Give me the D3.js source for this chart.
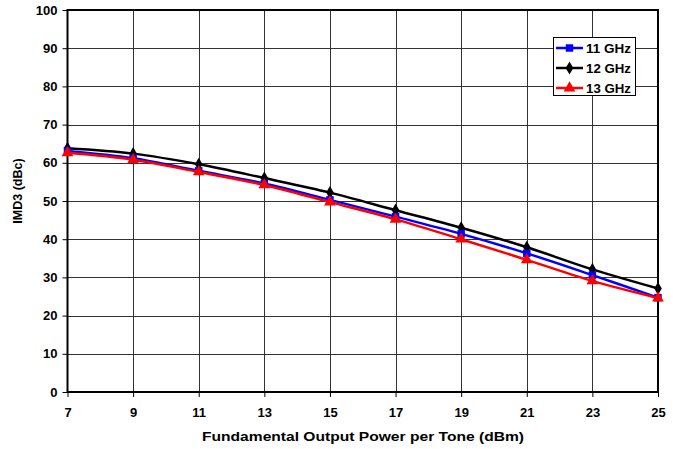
<!DOCTYPE html>
<html><head><meta charset="utf-8">
<script src="https://cdn.jsdelivr.net/npm/d3@7"></script>
<style>body{margin:0;background:#fff}svg{display:block}text{font-family:"Liberation Sans",Arial,sans-serif;font-weight:bold}</style>
</head><body>
<script>
const powers = [7, 9, 11, 13, 15, 17, 19, 21, 23, 25];
const imd11 = [63.1, 61.2, 57.9, 54.6, 50.3, 45.9, 41.4, 36.3, 30.6, 24.7];
const imd12 = [63.8, 62.4, 59.6, 56.0, 52.2, 47.6, 43.0, 37.9, 32.1, 27.1];
const imd13 = [62.6, 60.8, 57.6, 54.2, 49.7, 45.2, 40.0, 34.6, 29.1, 24.6];
const seriesNames = ["11 GHz", "12 GHz", "13 GHz"];
const xTicks = [7, 9, 11, 13, 15, 17, 19, 21, 23, 25];
const yTicks = [0, 10, 20, 30, 40, 50, 60, 70, 80, 90, 100];

const W = 673, H = 449;
const m = {l: 67.5, r: 673 - 658, t: 10, b: 449 - 392};
const svg = d3.select("body").append("svg").attr("width", W).attr("height", H);
const x = d3.scaleLinear().domain([7, 25]).range([m.l, W - m.r]);
const y = d3.scaleLinear().domain([0, 100]).range([H - m.b, m.t]);

// grid
const g = svg.append("g");
g.selectAll(".gx").data(xTicks.slice(1, -1)).join("line")
  .attr("x1", d => Math.round(x(d)) + 0.5).attr("x2", d => Math.round(x(d)) + 0.5)
  .attr("y1", y(100)).attr("y2", y(0)).attr("stroke", "#333").attr("stroke-width", 1);
g.selectAll(".gy").data(yTicks.slice(1, -1)).join("line")
  .attr("y1", d => Math.round(y(d)) + 0.5).attr("y2", d => Math.round(y(d)) + 0.5)
  .attr("x1", x(7)).attr("x2", x(25)).attr("stroke", "#333").attr("stroke-width", 1);

// border
svg.append("rect").attr("x", x(7)).attr("y", y(100)).attr("width", x(25) - x(7)).attr("height", y(0) - y(100))
  .attr("fill", "none").attr("stroke", "#000").attr("stroke-width", 2);

// axes
const xa = svg.append("g").attr("transform", `translate(0,${y(0)})`)
  .call(d3.axisBottom(x).tickValues(xTicks).tickFormat(d3.format("d")).tickSize(5).tickPadding(11));
const ya = svg.append("g").attr("transform", `translate(${x(7)},0)`)
  .call(d3.axisLeft(y).tickValues(yTicks).tickSize(5).tickPadding(5));
[xa, ya].forEach(a => {
  a.select(".domain").remove();
  a.selectAll("line").attr("stroke", "#000").attr("stroke-width", 1);
  a.selectAll("text").attr("font-size", 13).attr("fill", "#000").style("font-family", '"Liberation Sans",Arial,sans-serif').style("font-weight", "bold");
});

svg.append("text").attr("x", 363).attr("y", 441).attr("text-anchor", "middle")
  .attr("font-size", 13.5).attr("textLength", 322).attr("lengthAdjust", "spacingAndGlyphs")
  .text("Fundamental Output Power per Tone (dBm)");
svg.append("text").attr("transform", `translate(22,191) rotate(-90)`).attr("text-anchor", "middle")
  .attr("font-size", 12.5).text("IMD3 (dBc)");

const series = [
  {name: seriesNames[0], vals: imd11, color: "#0000ff", sym: d3.symbolSquare, size: 56},
  {name: seriesNames[1], vals: imd12, color: "#000000", sym: d3.symbolDiamond, size: 50},
  {name: seriesNames[2], vals: imd13, color: "#ff0000", sym: d3.symbolTriangle, size: 60}
];
const line = d3.line().x((d, i) => x(powers[i])).y(d => y(d)).curve(d3.curveCatmullRom.alpha(0.5));
const order = [1, 0, 2];
order.forEach(k => {
  const s = series[k];
  svg.append("path").attr("d", line(s.vals)).attr("fill", "none").attr("stroke", s.color).attr("stroke-width", 2.5);
  svg.selectAll(null).data(s.vals).join("path")
    .attr("transform", (d, i) => `translate(${x(powers[i])},${y(d)})`)
    .attr("d", d3.symbol().type(s.sym).size(s.size)).attr("fill", s.color);
});

// legend
const lg = svg.append("g");
lg.append("rect").attr("x", 553.5).attr("y", 37.5).attr("width", 82).attr("height", 58)
  .attr("fill", "#fff").attr("stroke", "#000").attr("stroke-width", 1);
series.forEach((s, i) => {
  const yy = 48 + i * 20;
  lg.append("line").attr("x1", 556).attr("x2", 583).attr("y1", yy).attr("y2", yy).attr("stroke", s.color).attr("stroke-width", 2.5);
  lg.append("path").attr("transform", `translate(569.5,${yy})`).attr("d", d3.symbol().type(s.sym).size(s.size)).attr("fill", s.color);
  lg.append("text").attr("x", 586).attr("y", yy + 4.7).attr("font-size", 13).attr("textLength", 45).attr("lengthAdjust", "spacingAndGlyphs").text(s.name);
});
</script>
</body></html>
